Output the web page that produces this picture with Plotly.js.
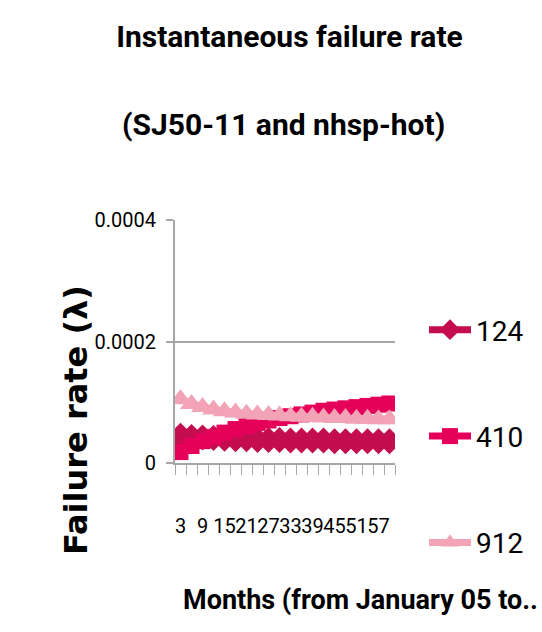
<!DOCTYPE html>
<html>
<head>
<meta charset="utf-8">
<script src="https://cdn.plot.ly/plotly-3.0.1.min.js"></script>
<style>html,body{margin:0;padding:0;background:#fff;}#chart{width:542px;height:632px;}</style>
</head>
<body>
<div id="chart"></div>
<script>
// Months (categories), every 3 months
const months = [3,6,9,12,15,18,21,24,27,30,33,36,39,42,45,48,51,54,57,60];
const seriesNames = ['124', '410', '912'];
const rate124 = [0.000045,0.000043,0.000042,0.000041,0.000040,0.000039,0.000039,0.000038,0.000038,0.000038,0.000037,0.000037,0.000037,0.000037,0.000036,0.000036,0.000036,0.000036,0.000036,0.000036];
const rate410 = [0.000018,0.000028,0.000036,0.000043,0.000050,0.000056,0.000061,0.000066,0.000070,0.000074,0.000077,0.000080,0.000083,0.000086,0.000088,0.000090,0.000092,0.000094,0.000096,0.000098];
const rate912 = [0.000105,0.000097,0.000092,0.000088,0.000085,0.000083,0.000081,0.000080,0.000079,0.000078,0.000077,0.000076,0.000076,0.000075,0.000074,0.000074,0.000073,0.000073,0.000072,0.000072];
const yTickVals = [0, 0.0002, 0.0004];
const yTickText = ['0', '0.0002', '0.0004'];

const NARROW = 'Roboto, "Noto Sans", sans-serif';
const colors = ['#C30D4E', '#E5005A', '#F2A3B5'];
const symbols = ['diamond', 'square', 'triangle-up'];
const sizes = [20, 16, 20];
const allRates = [rate124, rate410, rate912];

const traces = allRates.map((r, i) => ({
  type: 'scatter', mode: 'lines+markers',
  x: months, y: r, name: seriesNames[i], legendgroup: 'g' + i,
  line: {color: colors[i], width: 7},
  marker: {color: colors[i], symbol: symbols[i], size: sizes[i]},
  cliponaxis: true
}));

const layout = {
  width: 542, height: 632,
  paper_bgcolor: '#fff', plot_bgcolor: '#fff',
  margin: {l: 175, r: 147, t: 220, b: 169},
  font: {family: NARROW, color: '#000'},
  title: {
    text: '<b>Instantaneous failure rate</b>',
    font: {family: NARROW, size: 30, color: '#000'},
    x: 282/542, xanchor: 'center', xref: 'paper',
    y: 1 - 36/632, yanchor: 'middle', yref: 'container'
  },
  xaxis: {
    range: [1.5, 61.5], tick0: 3, dtick: 6, ticks: '', showgrid: false,
    tickangle: 0,
    showline: true, linecolor: '#a6a6a6', linewidth: 2, zeroline: false,
    tickfont: {family: NARROW, size: 20, color: '#000'},
    ticklabelstandoff: 44,
    minor: {tick0: 1.5, dtick: 3, ticks: 'outside', ticklen: 10, tickcolor: '#a6a6a6', tickwidth: 1, showgrid: false}
  },
  yaxis: {
    range: [0, 0.0004], tickvals: yTickVals, ticktext: yTickText,
    ticks: 'outside', ticklen: 7, tickcolor: '#a6a6a6', tickwidth: 2,
    showgrid: true, gridcolor: '#a6a6a6', gridwidth: 2,
    showline: true, linecolor: '#a6a6a6', linewidth: 2, zeroline: false,
    tickfont: {family: NARROW, size: 20, color: '#000'},
    ticklabelstandoff: 6
  },
  legend: {
    x: (424-175)/220, xanchor: 'left', y: (463-305)/243, yanchor: 'top',
    font: {family: NARROW, size: 28, color: '#000'},
    traceorder: 'grouped', tracegroupgap: 67, itemwidth: 42,
    maxheight: 400,
    bgcolor: 'rgba(0,0,0,0)'
  },
  showlegend: true,
  annotations: [
    {text: '<b>(SJ50-11 and nhsp-hot)</b>', xref: 'paper', yref: 'paper',
     x: (283-175)/220, y: (463-124)/243, xanchor: 'center', yanchor: 'middle',
     showarrow: false, font: {family: NARROW, size: 30, color: '#000'}},
    {text: '<b>Failure rate (λ)</b>', xref: 'paper', yref: 'paper',
     x: (76-175)/220, y: (463-420)/243, xanchor: 'center', yanchor: 'middle',
     textangle: -90, showarrow: false,
     font: {family: '"DejaVu Sans", Verdana, sans-serif', size: 32, color: '#000'}},
    {text: '<b>Months (from January 05 to..</b>', xref: 'paper', yref: 'paper',
     x: (181-175)/220, y: (463-600)/243, xanchor: 'left', yanchor: 'middle',
     showarrow: false, font: {family: NARROW, size: 27, color: '#000'}}
  ]
};

Plotly.newPlot('chart', traces, layout, {displayModeBar: false, staticPlot: true});
</script>
</body>
</html>
